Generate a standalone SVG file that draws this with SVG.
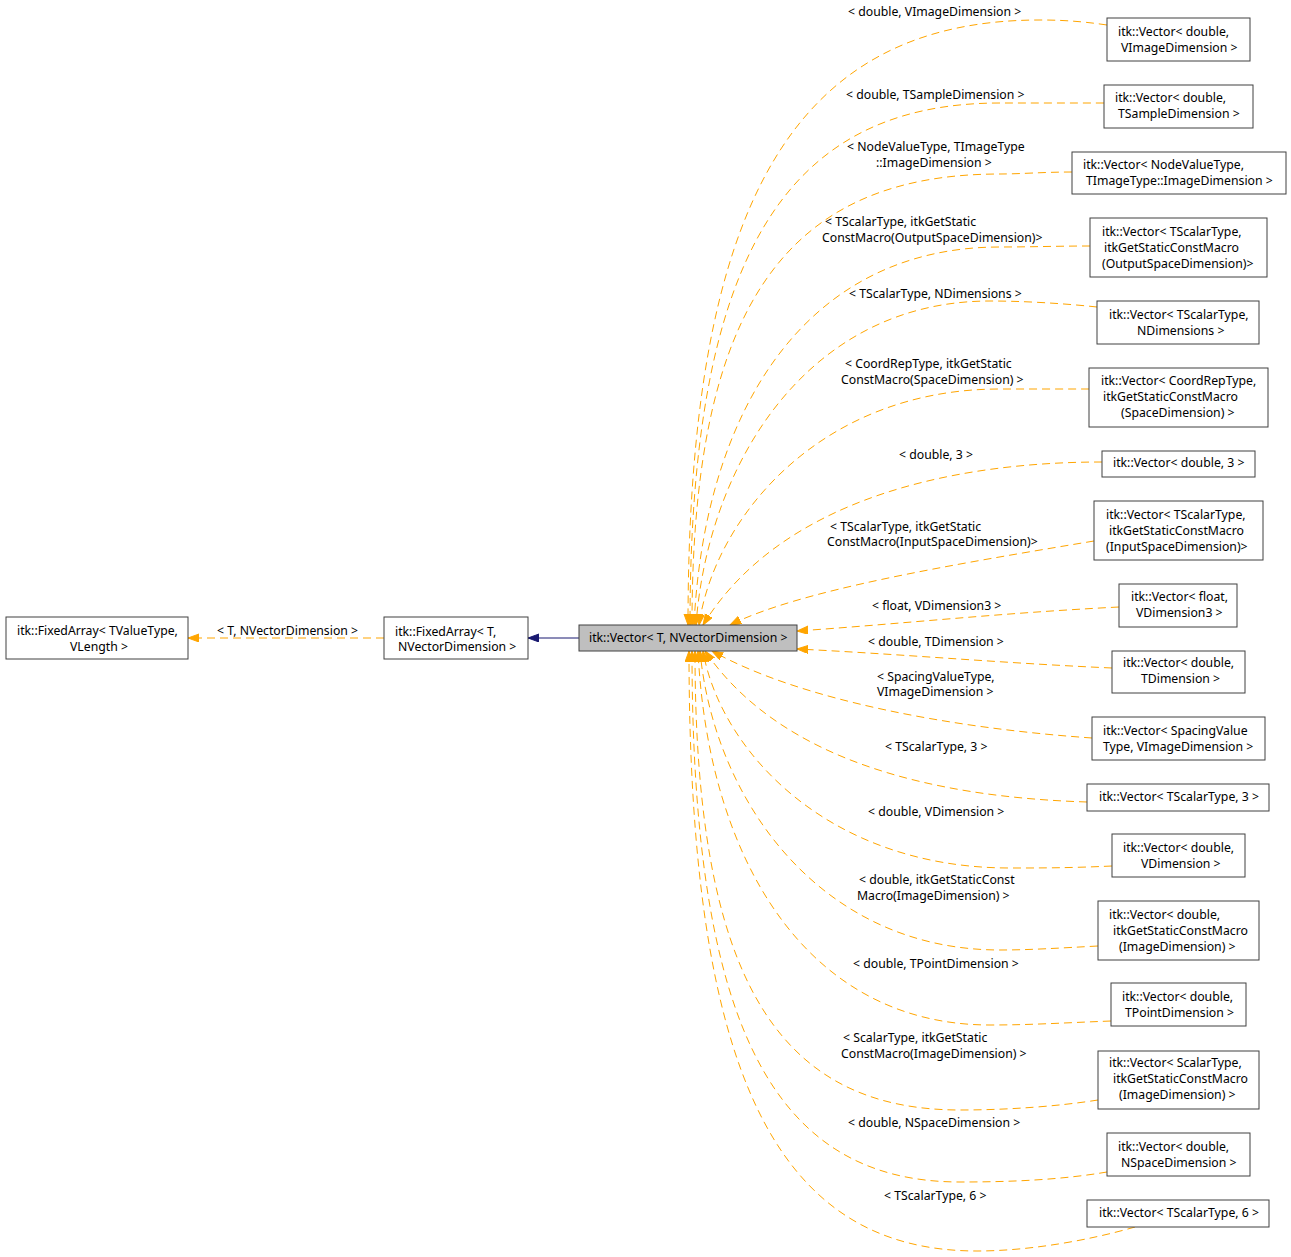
<svg xmlns="http://www.w3.org/2000/svg" width="1291" height="1257" viewBox="0 0 1291 1257">
<style>
text{font-family:"Noto Sans","Open Sans","DejaVu Sans",sans-serif;font-size:12.25px;fill:#000}
.box{fill:#fff;stroke:#404040;stroke-width:1}
.cur{fill:#bfbfbf;stroke:#404040;stroke-width:1}
.e{fill:none;stroke:#ffa500;stroke-width:1;stroke-dasharray:8,5;marker-end:url(#ao)}
.inh{fill:none;stroke:#191970;stroke-width:1;marker-end:url(#an)}
</style>
<defs>
<marker id="ao" markerUnits="userSpaceOnUse" markerWidth="12" markerHeight="9" refX="11" refY="4" orient="auto" viewBox="0 0 12 9">
<path d="M0,0 L11,4 L0,8 Z" fill="#ffa500" stroke="#ffa500" stroke-width="1"/>
</marker>
<marker id="an" markerUnits="userSpaceOnUse" markerWidth="12" markerHeight="9" refX="11" refY="4" orient="auto" viewBox="0 0 12 9">
<path d="M0,0 L11,4 L0,8 Z" fill="#191970" stroke="#191970" stroke-width="1"/>
</marker>
</defs>
<rect width="1291" height="1257" fill="#fff"/>
<g id="connectors">
<g><path class="inh" d="M579,638 L528,638"/></g>
<g><path class="e" d="M384,638 L188,638"/><text x="217" y="635">&lt; T, NVectorDimension &gt;</text></g>
<g><path class="e" d="M1107,25 C1080,21 1060,20 1040,20 C794,20 688,202 688,625"/><text x="848" y="16">&lt; double, VImageDimension &gt;</text></g>
<g><path class="e" d="M1104,103 C1060,103 1030,103 1000,103 C783,103 690,260 690,625"/><text x="846" y="99">&lt; double, TSampleDimension &gt;</text></g>
<g><path class="e" d="M1072,172 C1045,172 1020,174 1000,174 C784,174 692,309 692,625"/><text x="847" y="151">&lt; NodeValueType, TImageType</text><text x="876" y="167">::ImageDimension &gt;</text></g>
<g><path class="e" d="M1090,246 C1060,246 1030,247 1000,247 C801,247 704,417 694,625"/><text x="825" y="226">&lt; TScalarType, itkGetStatic</text><text x="822" y="242">ConstMacro(OutputSpaceDimension)&gt;</text></g>
<g><path class="e" d="M1097,307 C1060,303 1020,301 990,301 C808,301 708,463 696,625"/><text x="849" y="298">&lt; TScalarType, NDimensions &gt;</text></g>
<g><path class="e" d="M1089,389 C1060,389 1030,389 1000,389 C819,389 714,519 699,625"/><text x="845" y="368">&lt; CoordRepType, itkGetStatic</text><text x="841" y="384">ConstMacro(SpaceDimension) &gt;</text></g>
<g><path class="e" d="M1102,462 C950,462 780,500 703,625"/><text x="899" y="459">&lt; double, 3 &gt;</text></g>
<g><path class="e" d="M1094,541 C950,565 800,590 730,625"/><text x="830" y="531">&lt; TScalarType, itkGetStatic</text><text x="827" y="546">ConstMacro(InputSpaceDimension)&gt;</text></g>
<g><path class="e" d="M1119,607 C1000,613 900,624 797,631"/><text x="872" y="610">&lt; float, VDimension3 &gt;</text></g>
<g><path class="e" d="M1112,668 C1000,663 900,654 797,649"/><text x="868" y="646">&lt; double, TDimension &gt;</text></g>
<g><path class="e" d="M1092,738 C950,728 800,700 712,651"/><text x="877" y="681">&lt; SpacingValueType,</text><text x="877" y="696">VImageDimension &gt;</text></g>
<g><path class="e" d="M1087,802 C930,797 780,760 705,651"/><text x="885" y="751">&lt; TScalarType, 3 &gt;</text></g>
<g><path class="e" d="M1112,866 C1070,868 1040,868 1010,868 C826,868 720,749 703,651"/><text x="868" y="816">&lt; double, VDimension &gt;</text></g>
<g><path class="e" d="M1098,946 C1060,948 1030,950 1000,950 C820,950 714,800 700,651"/><text x="859" y="884">&lt; double, itkGetStaticConst</text><text x="857" y="900">Macro(ImageDimension) &gt;</text></g>
<g><path class="e" d="M1111,1021 C1060,1023 1030,1025 990,1025 C805,1025 708,857 698,651"/><text x="853" y="968">&lt; double, TPointDimension &gt;</text></g>
<g><path class="e" d="M1098,1100 C1060,1106 1010,1110 960,1110 C774,1110 695,972 695,651"/><text x="843" y="1042">&lt; ScalarType, itkGetStatic</text><text x="841" y="1058">ConstMacro(ImageDimension) &gt;</text></g>
<g><path class="e" d="M1107,1172 C1060,1180 1010,1182 960,1182 C772,1182 692,1023 692,651"/><text x="848" y="1127">&lt; double, NSpaceDimension &gt;</text></g>
<g><path class="e" d="M1135,1227 C1090,1240 1030,1251 977,1251 C775,1251 689,1071 689,651"/><text x="884" y="1200">&lt; TScalarType, 6 &gt;</text></g>
</g>
<g id="n_fixedarray_tvalue"><rect class="box" x="6" y="617" width="182" height="42"/><text x="17" y="635">itk::FixedArray&lt; TValueType,</text><text x="70" y="651">VLength &gt;</text></g>
<g id="n_fixedarray_t"><rect class="box" x="384" y="617" width="144" height="42"/><text x="395" y="636">itk::FixedArray&lt; T,</text><text x="398" y="651">NVectorDimension &gt;</text></g>
<g id="n_vector_t"><rect class="cur" x="579" y="625" width="218" height="26"/><text x="589" y="642">itk::Vector&lt; T, NVectorDimension &gt;</text></g>
<g id="n1"><rect class="box" x="1107" y="18" width="143" height="43"/><text x="1118" y="36">itk::Vector&lt; double,</text><text x="1121" y="52">VImageDimension &gt;</text></g>
<g id="n2"><rect class="box" x="1104" y="85" width="149" height="43"/><text x="1115" y="102">itk::Vector&lt; double,</text><text x="1118" y="118">TSampleDimension &gt;</text></g>
<g id="n3"><rect class="box" x="1072" y="152" width="214" height="42"/><text x="1083" y="169">itk::Vector&lt; NodeValueType,</text><text x="1086" y="185">TImageType::ImageDimension &gt;</text></g>
<g id="n4"><rect class="box" x="1090" y="218" width="177" height="59"/><text x="1102" y="236">itk::Vector&lt; TScalarType,</text><text x="1104" y="252">itkGetStaticConstMacro</text><text x="1102" y="268">(OutputSpaceDimension)&gt;</text></g>
<g id="n5"><rect class="box" x="1097" y="301" width="162" height="43"/><text x="1109" y="319">itk::Vector&lt; TScalarType,</text><text x="1137" y="335">NDimensions &gt;</text></g>
<g id="n6"><rect class="box" x="1089" y="368" width="179" height="59"/><text x="1101" y="385">itk::Vector&lt; CoordRepType,</text><text x="1103" y="401">itkGetStaticConstMacro</text><text x="1121" y="417">(SpaceDimension) &gt;</text></g>
<g id="n7"><rect class="box" x="1102" y="451" width="153" height="26"/><text x="1113" y="467">itk::Vector&lt; double, 3 &gt;</text></g>
<g id="n8"><rect class="box" x="1094" y="501" width="169" height="59"/><text x="1106" y="519">itk::Vector&lt; TScalarType,</text><text x="1109" y="535">itkGetStaticConstMacro</text><text x="1106" y="551">(InputSpaceDimension)&gt;</text></g>
<g id="n9"><rect class="box" x="1119" y="584" width="118" height="43"/><text x="1131" y="601">itk::Vector&lt; float,</text><text x="1136" y="617">VDimension3 &gt;</text></g>
<g id="n10"><rect class="box" x="1112" y="651" width="133" height="42"/><text x="1123" y="667">itk::Vector&lt; double,</text><text x="1141" y="683">TDimension &gt;</text></g>
<g id="n11"><rect class="box" x="1092" y="717" width="173" height="43"/><text x="1103" y="735">itk::Vector&lt; SpacingValue</text><text x="1103" y="751">Type, VImageDimension &gt;</text></g>
<g id="n12"><rect class="box" x="1087" y="784" width="182" height="27"/><text x="1099" y="801">itk::Vector&lt; TScalarType, 3 &gt;</text></g>
<g id="n13"><rect class="box" x="1112" y="834" width="133" height="43"/><text x="1123" y="852">itk::Vector&lt; double,</text><text x="1141" y="868">VDimension &gt;</text></g>
<g id="n14"><rect class="box" x="1098" y="901" width="161" height="59"/><text x="1109" y="919">itk::Vector&lt; double,</text><text x="1113" y="935">itkGetStaticConstMacro</text><text x="1119" y="951">(ImageDimension) &gt;</text></g>
<g id="n15"><rect class="box" x="1111" y="983" width="135" height="43"/><text x="1122" y="1001">itk::Vector&lt; double,</text><text x="1125" y="1017">TPointDimension &gt;</text></g>
<g id="n16"><rect class="box" x="1098" y="1051" width="161" height="58"/><text x="1109" y="1067">itk::Vector&lt; ScalarType,</text><text x="1113" y="1083">itkGetStaticConstMacro</text><text x="1119" y="1099">(ImageDimension) &gt;</text></g>
<g id="n17"><rect class="box" x="1107" y="1133" width="143" height="43"/><text x="1118" y="1151">itk::Vector&lt; double,</text><text x="1121" y="1167">NSpaceDimension &gt;</text></g>
<g id="n18"><rect class="box" x="1087" y="1200" width="182" height="27"/><text x="1099" y="1217">itk::Vector&lt; TScalarType, 6 &gt;</text></g>
</svg>
